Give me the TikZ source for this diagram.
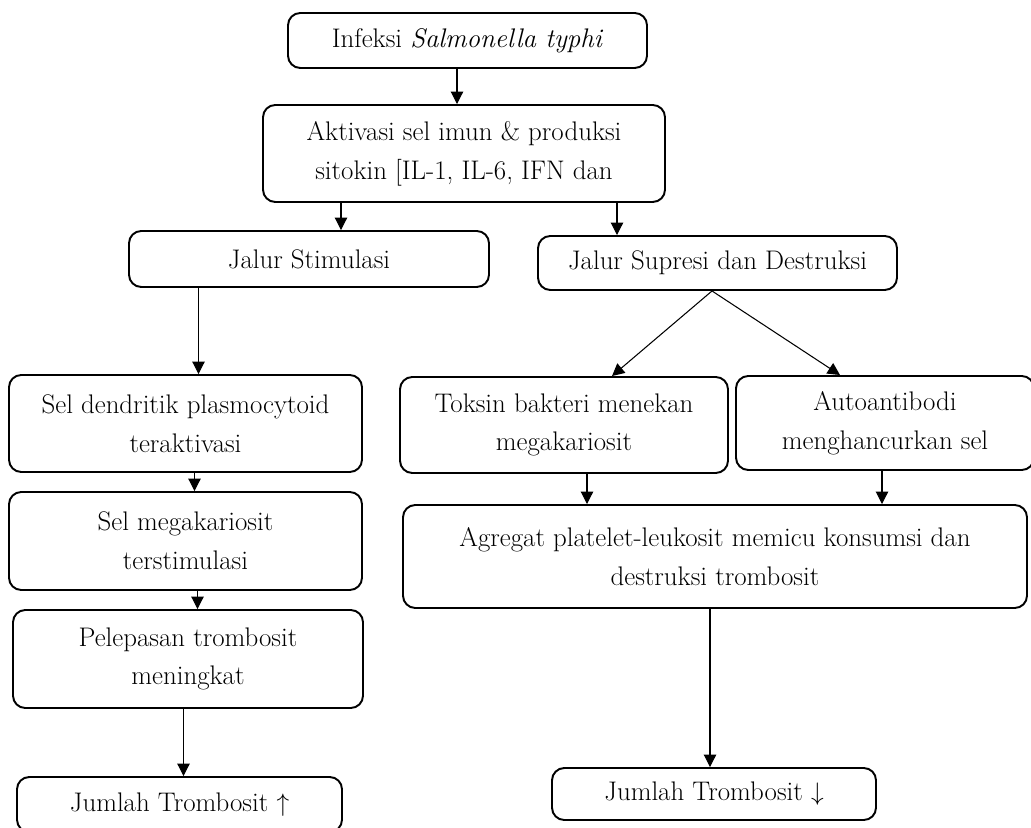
\documentclass[tikz,border=0pt]{standalone}
\usepackage{fontspec}
\usepackage{amsmath,amssymb}
\usetikzlibrary{arrows.meta,positioning,calc}

\begin{document}
\begin{tikzpicture}[
  box/.style={draw, line width=1.1pt, rounded corners=7pt, align=center, inner sep=2pt,
    font=\fontsize{15.3}{22}\selectfont},
  arr/.style={-{Triangle[length=7pt,width=7pt]}, line width=0.6pt}
]
  \useasboundingbox (0,0) rectangle (20.62,16.54);

  % Top: infection and immune activation
  \node[box, minimum width=7.18cm, minimum height=1.1cm] (infeksi) at (9.35,15.73) {Infeksi \textit{Salmonella typhi}};
  \node[box, minimum width=8.04cm, minimum height=1.94cm] (aktivasi) at (9.28,13.47) {Aktivasi sel imun \& produksi\\sitokin [IL-1, IL-6, IFN dan};

  % Two pathways
  \node[box, minimum width=7.2cm, minimum height=1.12cm] (stimulasi) at (6.18,11.36) {Jalur Stimulasi};
  \node[box, minimum width=7.18cm, minimum height=1.08cm] (supresi) at (14.35,11.28) {Jalur Supresi dan Destruksi};

  % Left column: stimulation
  \node[box, minimum width=7.06cm, minimum height=1.94cm] (dendritik) at (3.71,8.07) {Sel dendritik plasmocytoid\\teraktivasi};
  \node[box, minimum width=7.06cm, minimum height=1.96cm] (megakariosit) at (3.71,5.72) {Sel megakariosit\\terstimulasi};
  \node[box, minimum width=7.0cm, minimum height=1.96cm] (pelepasan) at (3.76,3.36) {Pelepasan trombosit\\meningkat};
  \node[box, minimum width=6.5cm, minimum height=1.1cm] (naik) at (3.59,0.45) {Jumlah Trombosit $\uparrow$};

  % Right column: suppression and destruction
  \node[box, minimum width=6.56cm, minimum height=1.92cm] (toksin) at (11.28,8.04) {Toksin bakteri menekan\\megakariosit};
  \node[box, minimum width=5.96cm, minimum height=1.88cm] (autoantibodi) at (17.7,8.08) {Autoantibodi\\menghancurkan sel};
  \node[box, minimum width=12.48cm, minimum height=2.06cm] (agregat) at (14.3,5.41) {Agregat platelet-leukosit memicu konsumsi dan\\destruksi trombosit};
  \node[box, minimum width=6.48cm, minimum height=1.04cm] (turun) at (14.28,0.66) {Jumlah Trombosit $\downarrow$};

  % Connectors
  \draw[arr] ([xshift=-0.21cm]infeksi.south) -- ([xshift=-0.21cm]infeksi.south |- aktivasi.north);
  \draw[arr] ([xshift=-2.46cm]aktivasi.south) -- ([xshift=-2.46cm]aktivasi.south |- stimulasi.north);
  \draw[arr] ([xshift=3.06cm]aktivasi.south) -- ([xshift=3.06cm]aktivasi.south |- supresi.north);
  \draw[arr] ([xshift=-2.21cm]stimulasi.south) -- ([xshift=-2.21cm]stimulasi.south |- dendritik.north);
  \draw[arr] ([xshift=0.18cm]dendritik.south) -- ([xshift=0.18cm]dendritik.south |- megakariosit.north);
  \draw[arr] ([xshift=0.24cm]megakariosit.south) -- ([xshift=0.24cm]megakariosit.south |- pelepasan.north);
  \draw[arr] ([xshift=-0.09cm]pelepasan.south) -- ([xshift=-0.09cm]pelepasan.south |- naik.north);
  \draw[arr] ([xshift=-0.11cm]supresi.south) -- ([xshift=0.96cm]toksin.north);
  \draw[arr] ([xshift=-0.11cm]supresi.south) -- ([xshift=-0.9cm]autoantibodi.north);
  \draw[arr] ([xshift=0.46cm]toksin.south) -- ([xshift=0.46cm]toksin.south |- agregat.north);
  \draw[arr] ([xshift=-0.06cm]autoantibodi.south) -- ([xshift=-0.06cm]autoantibodi.south |- agregat.north);
  \draw[arr] ([xshift=-0.1cm]agregat.south) -- ([xshift=-0.1cm]agregat.south |- turun.north);
\end{tikzpicture}
\end{document}
